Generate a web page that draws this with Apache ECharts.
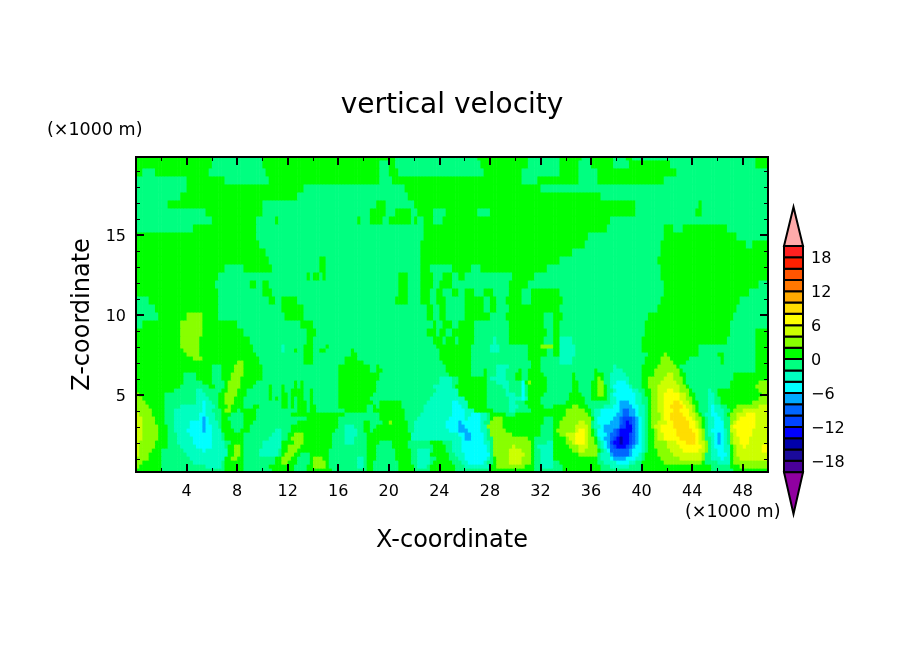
<!DOCTYPE html>
<html><head><meta charset="utf-8"><style>html,body{margin:0;background:#fff}#c{width:904px;height:654px}</style>
<script src="https://cdn.jsdelivr.net/npm/echarts@6/dist/echarts.min.js"></script></head>
<body><div id="c"></div><script>
// Velocity band read for each letter (mid value of the contour band)
const bandValue = {t:-15,u:-13,v:-11,w:-9,x:-7,y:-5,z:-3,a:-1,b:1,c:3,d:5,e:7,f:9,g:11};
// Each token: band letter + X (km) where that band ends.
// Lower rows, Z = 0.2 .. 8.2, 0.25 km tall, bottom to top, X 0..33
const rowsLowLeft = [
"b2.1 a7 b8.55 a10.7 b12.4 a13.5 b15.4 a18.2 b18.8 a20.8 b22 a23.3 b25.3 a28 b31.4 a33",
"c.25 b2 a5.5 z6.65 a7 b8.5 a10.6 b12.6 a13.55 b14 c14.9 b15.3 a17.4 z18.05 a18.2 b18.8 a20.7 b21.9 a22.25 z23.1 a23.3 b25.2 a25.9 z28.1 b28.6 c30.65 b31.5 a32.05 z33",
"c.4 b2 a4.45 z6.75 a6.9 b8.45 a11 b11.5 c12.05 b12.85 a13.65 b14 c14.9 b15.3 a17.45 z18.05 a18.2 b18.85 a20.7 b21.85 a22.2 z23.2 a23.5 b24.95 a25.7 z26.3 y27.5 z27.7 a28.2 b28.5 c29.6 d30.5 c31.2 b31.5 a32 z33",
"c.9 b1.9 a4.3 z7.1 b7.6 c8 b8.5 a11 b11.6 c12.2 b12.8 a13.7 b14 c14.85 b15.3 a17.4 z18.05 a18.2 b18.95 a20.6 b21.8 a22.2 z23.2 a23.7 b24.8 a25.4 z26.1 y27.7 z27.9 a28.2 b28.5 c29.5 d30.6 c31.2 b31.4 a32 z33",
"d.15 c1.05 b1.9 a3.95 z7.15 b7.7 c8.15 b8.5 a9.8 z11.2 a11.45 b11.75 c12.45 b13 a13.8 b15.3 a18.25 b19 a20.55 b21.75 a22.2 z23.3 b24.65 a25.2 z25.9 y27.9 z28 a28.2 c29.55 d30.65 c31.2 b31.4 a32 z33",
"d.2 c1.3 b2.05 a3.8 z5.25 y5.5 z7.15 b7.75 c8.2 b8.5 a9.85 z11.3 a11.4 b11.9 c12.7 b15.35 a18.25 b19 a20.45 b21.7 a22.2 z23.25 a23.4 b24.5 a25.1 z25.85 y27.75 z28.1 a28.35 c29.6 d30.5 c31.15 b31.5 a31.9 z33",
"d.25 c1.45 b2.45 a3.6 z4.75 y5.9 z7.1 a7.2 b7.7 c8.25 b8.5 a10 z11.4 b11.9 c13 b15.45 a18.25 b19.05 a20.3 b21.6 a23.4 b24.45 a25 z25.8 y27.7 z28 a28.3 c29.85 d30.1 c31.15 b31.55 a31.8 z33",
"d.35 c1.55 b2.6 a3.3 z4.5 y6 z6.9 a7.6 b8.5 a10.1 z11.4 a11.6 b12.45 c13.3 b15.5 a16.55 z17.35 a18.3 b19.2 a20.2 b21.5 a23.35 b24.15 a24.9 z25.7 y27.6 z27.9 a28.3 c31.15 b31.55 a32.6 z33",
"d.45 c1.75 b2.6 a3.15 z4.4 y6 z6.8 a7 b8.5 a10.4 z11.5 a12 b12.3 c13.35 b15.6 a16.6 z17.35 a18.3 b21.7 z25.65 y26.1 x26.5 y27.5 z27.85 a28.3 c31.1 b31.6 a33",
"d.6 c1.85 b2.6 a3.3 z4.3 y6 z6.75 a6.9 b8.55 a10.7 z11.5 a11.9 b12.6 c13.25 b15.6 a16.6 z17.4 a18.3 b21.75 z25.4 y26.1 x26.5 y27.4 z27.8 a28 c29.7 b32 a32.9 b33",
"d.6 c1.75 b2.6 a3 z4.1 y5.25 x5.6 y6 z6.7 a6.85 b7.75 a8.35 b8.9 a11 z11.5 a12.3 b15.8 a16.6 z17.4 a18.1 b18.5 a18.7 b21.55 a21.9 z24.7 y25.6 x26.3 y27.3 z27.8 a28.1 c29.2 b32.1 a33",
"d.55 c1.65 b2.5 a2.95 z4.15 y5.25 x5.6 y6 z6.6 a6.75 b7.6 a8.45 b9.1 a12.3 b15.9 a16.6 z17.3 a18.1 b18.55 a18.9 b21.5 a22 z24.6 y25.55 x25.9 y27.3 z27.7 c28.95 b32.1 a33",
"d.6 c1.55 b2.35 a3.05 z4.3 y5.25 x5.6 y5.8 z6.45 a6.75 b7.4 a8.5 b9.2 a12.7 b16 a18.1 b18.5 a19.5 b20 c20.35 b21.4 a22.1 z24.5 y25.6 x25.75 y27.3 z27.6 a28 c28.9 b32.2 a33",
"d.5 c1.4 b2.2 a3.05 z5.1 y5.25 x5.6 y5.75 z6.35 a6.75 b7.35 a8.6 b9.4 a13.4 b16 a19.3 b21.35 a22.3 z24.8 y26.1 z26.3 y27.3 z27.7 a28 b28.3 c28.95 b32.3 a33",
"d.2 c1.3 b2.15 a3.05 z5.1 y5.6 z6.3 a6.7 b7.4 a8.55 b9.5 a12.2 b16.5 a19.2 b21.3 a22.6 z24.9 y26 z26.4 y27.2 z27.7 a27.9 b29.3 a29.9 b32.9 a33",
"c1.15 b2.15 a3.05 z5.2 y5.6 z6.1 a6.65 b7.1 c7.5 b7.95 a8.3 b9.6 a12.85 b13.4 a13.65 b14.2 a16.4 b18.2 a18.7 b21.2 a22.7 z25 y25.9 z26.7 b28.2 a29.4 z30 a31.2 b32.9 a33",
"c.95 b2.15 a3.5 z5.2 y5.6 z6.15 a6.6 b7.2 c7.55 b8.4 a9.2 b9.75 a11.4 b11.9 a12.35 b12.6 a12.85 b13.4 a13.65 b14.15 a16.1 b18.2 a18.65 b19 a19.3 b21 a22.8 z25 y25.8 z26.3 b27.8 a29.5 z30.2 a30.9 b32.2 a33",
"c.75 b2.3 a4.65 z5.25 y5.5 z5.95 a6.6 b7.1 c7.7 b8.4 a11.4 b11.9 a12.3 b12.6 a12.85 b13.4 a13.65 b14.1 a16.1 b18.65 a19.3 b21 a22.9 z25 y25.5 z26.15 b27.7 a29.4 z30.1 a30.7 b32 a33",
"c.45 b2.25 a4.65 z5.85 a6.6 b7 c7.85 b8.5 a10.4 b10.65 a11 b11.25 a11.4 b11.9 a12.35 b12.6 a12.85 b13.35 a13.7 b14.05 a16.1 b18.4 a23.2 z25.9 b26.9 c27 b27.7 a29.4 z30.45 y30.7 z30.9 a31 b32 a33",
"c.3 b2.35 a4.65 z5.45 a6.55 b7 c7.9 b8.85 a10.4 b10.65 a11.15 b11.3 a11.5 b11.9 a12.35 b12.65 a12.85 b13.3 a13.7 b14 a16.1 b18.7 a23.6 z25.5 b27.8 a29.3 z30 a30.4 y30.7 a31 b32.3 a33",
"c.1 b3 a4.7 z5.35 a5.9 b6.1 a6.85 b7.15 c8 b8.8 a10.5 b10.75 a11.5 b11.8 a12.35 b12.7 a12.85 b13.25 a13.75 b13.95 a16.1 b18.9 a23.7 z25.4 b27.7 a29.2 z29.6 a30.4 y30.7 a30.95 b32.4 a33",
"b3.4 a5.65 b6.2 a6.9 b7.25 c8.15 b9.2 a10.6 b10.8 a11.55 b11.85 a12.4 b12.65 a12.9 b13.25 a16.05 b19.1 a23.6 z25.1 a25.3 b27.7 a29 z29.5 a30.4 y30.7 a30.95 b32.4 a33",
"b3.8 a5.25 b6 a6.9 b7.35 c8.25 b9.6 a12.4 b12.65 a12.9 b13.3 a16.1 b19.1 a23.9 z25 a25.5 b27.75 a28.6 z29.4 a30.5 y30.7 b31 c31.3 b32.4 a33",
"b3.8 a4.85 b6 a6.85 b7.5 c8.35 b10 a16.1 b19.2 a24 z24.9 a25.5 b25.9 c26.1 b27.7 a28.1 z29.3 a30 b30.4 a31 b32.5 a33",
"b3.8 a4.65 b6 a6.85 b7.6 c8.6 b10.05 a16 b19.3 a24.85 b25.9 c26.1 b26.4 a27.4 b27.8 a28.5 z29.3 a30.1 b30.4 a31 b32.3 a33",
"b6 a6.75 b7.7 c8.6 b10 a16 b18.4 a18.9 b19.4 a24.6 b26.4 a27.4 b27.8 a28.4 z29.35 a30.3 b30.5 a31 b32.1 a33",
"b6.05 a6.75 b7.8 c8.6 b9.95 a16.1 b18.4 a18.9 b19.2 a24.4 b26.4 a28.4 z29.4 a31.2 b32.1 a33",
"b7.9 c8.6 b9.8 a13.2 b14 a16.4 b17.9 a24.2 b26.4 a31.3 b32.1 a33",
"b4.55 c5.25 b9.65 a13.2 b14 a16.6 b17.6 a24.1 b26.4 a31 b32 a33",
"b4.05 c5.1 b9.45 a13.2 b14 a16.9 b17.5 a24 b26.4 a31 b32.5 a33",
"b3.8 c5.1 b9.35 a11.4 z11.65 a12.45 b12.7 a13.2 b14 a14.6 b14.9 a17 b17.3 a23.9 b26.4 a28.1 z28.65 a31 b32.5 a33",
"b3.6 c5.1 b9.15 a11.4 z11.65 a13.2 b14 a15.1 b15.2 a23.8 b26.4 a28.1 z28.65 a31 b32 c33"
];
// Lower rows, same heights, X 33..50
const rowsLowRight = [
"a33.8 b36.7 a40.1 b45.5 a47.2 b50",
"a33.7 b36.7 a37.6 z39.1 a40 b45.4 a47.1 b47.7 c50",
"a33.4 b36.5 a37 z37.9 y38.9 z39.5 a40 b41.7 c44.8 b45 a45.9 z46.9 a47 b47.2 c50",
"a33.1 b36.5 a36.7 z37.6 y37.75 x38.7 y39.5 z39.9 a40.3 b41.5 c42.9 d44.8 c45.1 a45.6 z46.2 y46.6 z46.9 a47 b47.2 c47.7 d50",
"b34.9 c36.45 b36.6 a36.8 z37.4 y37.6 x37.75 w38.95 x39.35 y39.75 z40.1 a40.3 b41.3 c42.6 d44.8 c45 a45.5 z46.1 y46.7 z47 a47.1 b47.3 c47.6 d50",
"b34.6 c35 d35.5 c36.6 b36.7 a36.9 z37.2 y37.4 x37.6 w39 x39.35 y39.9 z40.2 a40.4 b41.2 c42.25 d43.2 e44.6 d44.95 c45.15 a45.6 z46.1 y46.6 z46.9 a47.1 b47.2 c47.5 d49.4 e50",
"b34.3 c34.9 d35.65 c36.4 b36.6 a36.8 z37 y37.3 x37.5 w37.7 v38 u38.7 v39 w39.2 x39.6 y39.9 z40.2 a40.5 b41.1 c42.1 d42.9 e44.8 d45 c45.2 b45.3 a45.5 z45.8 y46.6 z46.9 a47.1 b47.2 c47.5 d47.9 e48.3 d49.4 e50",
"b34.1 c34.5 d34.85 e35.4 d35.7 c36.3 b36.5 a36.7 z36.9 y37.2 x37.45 w37.6 v37.8 u38.15 t38.6 u39 v39.25 w39.5 x39.75 y40 z40.25 a40.5 b41.06 c42 d42.8 e43.4 f44.2 e44.6 d44.95 c45.2 a45.5 z45.8 y46.02 x46.2 y46.6 z46.85 a47 b47.1 c47.3 d47.8 e48.45 d50",
"b33.9 c34.3 d34.7 e35.5 d35.8 c36.2 b36.4 a36.6 z36.7 y37.1 x37.4 w37.75 v38 u38.3 t38.6 u39.1 v39.3 w39.5 x39.7 y40 z40.2 a40.4 b41 c41.3 d41.7 e43 f44.2 e44.5 d44.85 c45.1 a45.4 z45.75 y46 x46.2 y46.55 z46.85 a47 b47.1 c47.25 d47.65 e48.6 d50",
"b33.6 c34.1 d34.8 e35.45 d35.8 c36 b36.3 a36.5 z36.6 y37.2 x37.5 w38 v38.3 u39.1 v39.35 w39.5 x39.7 y40 z40.25 a40.5 b40.9 c41.2 d41.65 e42.75 f44.2 e44.55 d44.8 c45.1 a45.35 z45.7 y46.05 x46.15 y46.5 z46.8 a47 b47.1 c47.2 d47.4 e48.8 d50",
"b33.3 c34.65 d34.95 e35.45 d35.7 c36 b36.2 a36.4 z36.6 y37.1 x37.75 w38 v38.35 u39.15 v39.35 w39.5 x39.75 y40 z40.25 a40.5 b40.9 c41.2 d41.6 e42.65 f43.95 e44.4 d44.7 c44.95 b45.1 a45.2 z45.6 y46.4 z46.8 a46.9 b47 c47.1 d47.4 e48.8 d50",
"b33.5 c34.85 d35.65 c36 b36.1 a36.3 z36.7 y37 x38.15 w38.35 v38.75 u39.15 v39.35 w39.55 x39.75 y40 z40.25 a40.5 b40.85 c41.1 d41.55 e42.45 f43.75 e44.2 d44.5 c44.8 b45 a45.2 z45.7 y46.5 z46.6 a46.9 b47 c47.1 d47.35 e48.9 d50",
"b33.4 c35.1 d35.55 c36 b36.1 a36.2 z36.5 y37.6 x38.35 w38.5 v38.75 u39.1 v39.3 w39.5 x39.75 y40 z40.25 a40.5 b40.85 c41.3 d41.9 e42.4 f43.7 e44.2 d44.5 c44.75 b45 a45.2 z45.7 y46.4 z46.6 a47 b47.05 c47.2 d47.45 e49 d50",
"b33.75 c36.05 b36.2 a36.3 z36.55 y37.8 x38.2 w38.5 v39.25 w39.45 x39.7 y40 z40.25 a40.5 b40.85 c41.4 d41.85 e42.25 f43.5 e44 d44.3 c44.65 b44.9 a45.2 z45.7 y46.3 z46.6 a46.9 b47 c47.4 d47.75 e48.9 d50",
"b34 c35.85 b36.1 a36.2 z36.7 y38 x38.4 w39.1 x39.5 y39.85 z40.2 a40.5 b40.85 c41.4 d41.8 e42.3 f43.3 e43.85 d44.2 c44.5 b44.75 a45.1 z45.6 y46.1 z46.5 a46.85 b47.1 c47.4 d48.2 e49.1 d50",
"b34.1 c35.5 b36 a36.3 z36.85 y38.15 x38.6 w39.05 x39.4 y39.75 z40.15 a40.5 b40.8 c41.3 d41.75 e42.4 f43 e43.7 d44.1 c44.35 b44.6 a45.15 z45.55 y45.8 z46.4 a46.9 b47.3 c48.1 d50",
"b34.6 c35.1 b35.75 a36.9 z37.75 y38.3 x39.2 y39.65 z40.15 a40.5 b40.8 c41.3 d41.75 e42.3 f43.2 e43.5 d44 c44.2 b44.55 a45.2 z45.5 y45.8 z46.2 a46.8 b47.6 c49.2 d50",
"a33.95 b35.5 a37.45 z37.9 y38.35 x39 y39.6 z40.1 a40.5 b40.75 c41.3 d41.7 e42.5 f43.05 e43.3 d43.7 c44.1 b44.4 a45.2 z45.85 a46.2 b48.8 c50",
"a34.2 b35.4 a36.05 b36.9 c37.1 b37.25 a37.4 z37.9 y39.5 z40 a40.4 b40.7 c41.25 d41.7 e43.1 d43.6 c44 b44.25 a45.3 z45.8 a46.2 b49.2 c50",
"a34.3 b35.3 a36 b36.6 c37.1 b37.3 a37.6 z37.75 y39.5 z39.95 a40.3 b40.7 c41.25 d41.8 e42.9 d43.4 c43.85 b44.2 a45.3 z45.7 a46.1 b49.4 c50",
"a34.5 b35.1 a35.9 b36.5 c37 b37.35 a37.8 z38 y39.35 z39.8 a40.2 b40.65 c41.3 d41.9 e42.5 d43.1 c43.65 b44 a45.3 z45.5 a46 b49.3 c50",
"a34.4 b35 a35.9 b36.55 c37 b37.2 a37.4 z37.75 y38.95 z39.35 a40 b40.6 c41.3 d42.9 c43.4 b43.7 a46.9 b49 c50",
"a34.5 b34.9 a36 b36.4 c36.95 b37.1 a37.4 z37.95 y38.8 z39.1 a40 b40.55 c41.4 d42.7 c43.3 b43.55 a47.1 b49.3 c50",
"a34.5 b34.7 a36.2 b36.5 c36.85 b37.1 a37.45 z39 a40 b40.55 c41.7 d42.5 c43.15 b43.5 a47.15 b50",
"a34.6 b34.85 a36.2 b36.9 a37.5 z38.7 a40 b40.9 c41.9 d42.4 c43.1 b43.4 a47.2 b50",
"a36.2 b36.6 a37.7 z38.4 a40 b41 c43 b43.3 a49 b50",
"a37.8 z38 a40.1 b41.2 c42.7 b43.1 a49 b50",
"a33.6 z34.5 a40.3 b41.4 c42.4 b43.5 a46.2 b46.6 a49 b50",
"a33.5 z34.6 a40.3 b41.6 c42.2 b43.8 a46.2 b46.5 a49 b50",
"b33.4 z34.7 a40.5 b41.7 c42.05 b44.6 a46.1 b46.4 a49 b50",
"b33.5 z34.7 a39.9 b44.6 a49 b50",
"b33.5 z34.7 a39.9 b44.6 a49 b50"
];
// Upper rows, Z = 8.2 .. top, 0.5 km tall, X 0..50
const rowsHigh = [
"b3.4 c5.1 b9 a13.5 b14.1 a23.6 b24.2 a24.6 b25.3 a25.4 b26.7 a28.3 z28.6 a29.5 b32.2 a33 b33.5 z34.6 a39.9 b46.7 a49.1 b50",
"b3.4 c5.2 b8.4 a13.4 b14.2 a23 b23.8 a24 b24.5 a25 b25.4 a25.5 b26.8 a29.4 b32.4 a33 b33.6 a40.2 b46.9 a49 b50",
"a.6 b3.6 c5.3 b7.9 a13 b14.1 a23.4 b23.8 a24.2 b25 a25.5 b26.8 a29.4 b32.3 a32.9 b33.6 a40.2 b47 a50",
"a1.8 b3.9 c5.3 b6.6 a11.7 b13.3 a22.9 b23.4 a23.9 b24.4 a26 b28 a29.3 b32.3 a33 b33.7 a40.6 b47.2 a50",
"a1.5 b6.5 a11.4 b13.3 a23 b23.6 a24 b24.6 a25.9 b27.6 a27.9 b28.6 a29.4 b33.5 a41.3 b47.4 a50",
"a1 b6.4 a10.4 b11 a11.5 b12.7 a20.6 b21.4 a22.6 b23.2 a23.8 b24.4 a26 b27.4 a28 b28.6 a29.2 b30.4 a31.3 b33.7 a41.6 b47.7 a50",
"b6.4 a10 b10.8 a20.7 b21.5 a22.6 b23.3 a23.7 b24.2 a25 b25.5 a26 b26.7 a27.6 b28.3 a29.5 b30.4 a31.2 b33.6 a41.7 b48.4 a50",
"b6.3 a9 b9.4 a10 b10.4 a20.8 b21.6 a22.4 b23.5 a24 b25 a29.6 b31 a41.7 b49.2 a50",
"b6.6 a13.4 b13.7 a14 b14.4 a14.7 b15 a19.4 b19.6 a20.8 b21.5 a22.4 b23.4 a24.3 b25 a25.5 b26 a29.7 b31.6 a41.6 b50",
"b7 a8.6 b10.7 a14.4 b15 a22.6 b23.3 a24.9 b26.4 a27.2 b32.5 a41.4 b50",
"b10.4 a14.6 b15 a22.4 b33.5 a41.3 b50",
"b10.2 a22.4 b34.4 a41.4 b50",
"b9.8 a22.5 b35.4 a41.6 b48.2 a48.8 b50",
"b9.4 a22.8 b35.8 a41.8 b47.4 a50",
"a4.5 b9.6 a22.8 b37.2 a41.8 b42.4 a43.2 b46.8 a50",
"a5.9 b9.6 a10.9 b11.3 a17.4 b17.8 a18.6 b19.6 a20.1 b21.7 a22 b22.3 a22.8 b23.4 a24.3 b37.5 a50",
"a5.6 b10 a18.5 b19.7 a20.6 b21.7 a22.3 b23.4 a24.4 b27.1 a27.9 b39.4 a44.2 b44.7 a50",
"a2.6 b10 a18.9 b19.7 a21.9 b39.5 a44.4 b44.8 a50",
"a3.5 b12.8 a21.6 b36.7 a50",
"a3.9 b13.2 a21.2 b32 a50",
"a3.9 b6.9 a10.4 b19.3 a20.3 b30.6 a31.8 b35 a36.6 b41.7 a50",
"b.5 a1.4 b5.8 a10.3 b19.2 a20 b20.8 a27.5 b30.6 a33.4 b35.1 a36.6 b42.7 a50",
"b5.9 a9.9 b19.2 a20 b20.6 a27.2 b31 a33.5 b35 a36 b37.8 a39 b42.2 a48.9 b50",
"b6 a9.9 b20.6 a27 b31 a33.5 b35.3 a36.1 b37.8 a38.7 b39.3 a49 b50"
];
const splitX = 33, splitZ = 8.2;
const xRange = [0, 50], zRange = [0.2, 19.875];
const cellW = 0.25, lowH = 0.25, highH = 0.5;
const xMajor = [4,8,12,16,20,24,28,32,36,40,44,48];
const xMinor = [2,6,10,14,18,22,26,30,34,38,42,46];
const zMajor = [5,10,15];
const zMinor = [1,2,3,4,6,7,8,9,11,12,13,14,16,17,18,19];
const barLabels = [-18,-12,-6,0,6,12,18];
const barEdges = [-20,-18,-16,-14,-12,-10,-8,-6,-4,-2,0,2,4,6,8,10,12,14,16,18,20];
const barColors = ['#4a0099','#1a0a9a','#0000aa','#0000ff','#0044ff','#0066ff','#00aaff','#00ffff','#00ffc0','#00ff80','#00ff00','#88ff00','#ccff00','#ffff00','#ffdd00','#ffaa00','#ff7700','#ff5500','#ff2000','#ff2020'];
const overColor = '#ffaaaa', underColor = '#9000a0', overTip = 26.9, underTip = -27.4;

function colorOf(v){ for(let i=0;i<barColors.length;i++){ if(v>=barEdges[i]&&v<barEdges[i+1]) return barColors[i]; } return v<0?underColor:overColor; }
const cells = [];
function addRow(row,y,h,fromX,toX){
  const tokens = row.split(' ').map(t=>[t[0],parseFloat(t.slice(1))]);
  let k = 0;
  for(let x=fromX;x<toX-1e-6;x+=cellW){
    const mid = x+cellW/2;
    while(k<tokens.length-1 && mid>tokens[k][1]) k++;
    cells.push([x,y,bandValue[tokens[k][0]],h]);
  }
}
rowsLowLeft.forEach((row,r)=>addRow(row,zRange[0]+r*lowH,lowH,0,splitX));
rowsLowRight.forEach((row,r)=>addRow(row,zRange[0]+r*lowH,lowH,splitX,xRange[1]));
rowsHigh.forEach((row,r)=>addRow(row,splitZ+r*highH,highH,0,xRange[1]));
const barData = barColors.map((c,i)=>[barEdges[i],barEdges[i+1],(barEdges[i]+barEdges[i+1])/2]);
const tipData = [[barEdges[barEdges.length-1],overTip,1],[barEdges[0],underTip,-1]];

const font = 'DejaVu Sans';
const line = {show:true,onZero:false,lineStyle:{color:'#000',width:2}};
const shiftedRich = {s:{color:'#000',fontFamily:font,fontSize:16,padding:[4,0,0,0]}};
function xAx(pos,vals,len,w,labels){return {type:'value',gridIndex:0,position:pos,min:xRange[0],max:xRange[1],z:5,splitLine:{show:false},axisLine:line,
  axisTick:{show:true,inside:true,length:len,customValues:vals,lineStyle:{color:'#000',width:w}},
  axisLabel:labels?{show:true,customValues:vals,color:'#000',fontFamily:font,fontSize:16,margin:12,formatter:v=>String(v)}:{show:false},
  name:labels?'X-coordinate':'',nameLocation:'middle',nameGap:57,nameTextStyle:{color:'#000',fontFamily:font,fontSize:24}};}
function yAx(pos,vals,len,w,labels){return {type:'value',gridIndex:0,position:pos,min:zRange[0],max:zRange[1],z:5,splitLine:{show:false},axisLine:line,
  axisTick:{show:true,inside:true,length:len,customValues:vals,lineStyle:{color:'#000',width:w}},
  axisLabel:labels?{show:true,customValues:vals,margin:10,rich:shiftedRich,formatter:v=>'{s|'+v+'}'}:{show:false},
  name:labels?'Z-coordinate':'',nameLocation:'middle',nameGap:38,nameRotate:90,nameTextStyle:{color:'#000',fontFamily:font,fontSize:24}};}

const chart = echarts.init(document.getElementById('c'),null,{renderer:'canvas'});
chart.setOption({
  animation:false,backgroundColor:'#fff',
  title:[
    {text:'vertical velocity',left:'center',top:92,textStyle:{fontFamily:font,fontWeight:'normal',fontSize:28,color:'#000'},padding:0},
    {text:'(×1000 m)',left:47,top:121,textStyle:{fontFamily:font,fontWeight:'normal',fontSize:17.5,color:'#000'},padding:0},
    {text:'(×1000 m)',left:685,top:503,textStyle:{fontFamily:font,fontWeight:'normal',fontSize:17.5,color:'#000'},padding:0}
  ],
  grid:[{left:136,top:157,width:632,height:315,containLabel:false},{left:784,top:207,width:19,height:307}],
  xAxis:[xAx('bottom',xMajor,8,2,true),xAx('bottom',xMinor,4,1,false),xAx('top',xMajor,8,2,false),xAx('top',xMinor,4,1,false),
    {type:'value',gridIndex:1,min:0,max:1,show:false}],
  yAxis:[yAx('left',zMajor,8,2,true),yAx('left',zMinor,4,1,false),yAx('right',zMajor,8,2,false),yAx('right',zMinor,4,1,false),
    {type:'value',gridIndex:1,position:'right',min:underTip,max:overTip,splitLine:{show:false},axisLine:{show:false},axisTick:{show:false},
     axisLabel:{show:true,customValues:barLabels,margin:8,rich:shiftedRich,formatter:v=>'{s|'+(v<0?'−'+(-v):v)+'}'}}],
  series:[
    {type:'custom',xAxisIndex:0,yAxisIndex:0,clip:true,silent:true,progressive:0,data:cells,encode:{x:0,y:1},
     renderItem(p,api){
       const x=api.value(0),y=api.value(1);
       const a=api.coord([x,y]),b=api.coord([x+cellW,y+api.value(3)]);
       return {type:'rect',shape:{x:a[0],y:b[1],width:b[0]-a[0]+0.6,height:a[1]-b[1]+0.6},style:{fill:colorOf(api.value(2))}};
     }},
    {type:'custom',xAxisIndex:4,yAxisIndex:4,silent:true,data:barData,encode:{y:[0,1]},
     renderItem(p,api){
       const a=api.coord([0,api.value(0)]),b=api.coord([1,api.value(1)]);
       return {type:'rect',shape:{x:a[0],y:b[1],width:b[0]-a[0],height:a[1]-b[1]},style:{fill:colorOf(api.value(2)),stroke:'#000',lineWidth:2}};
     }},
    {type:'custom',xAxisIndex:4,yAxisIndex:4,silent:true,data:tipData,encode:{y:[0,1]},
     renderItem(p,api){
       const l=api.coord([0,api.value(0)]),r=api.coord([1,api.value(0)]),t=api.coord([0.5,api.value(1)]);
       return {type:'polygon',shape:{points:[l,r,t]},style:{fill:api.value(2)>0?overColor:underColor,stroke:'#000',lineWidth:2}};
     }}
  ]
});
</script></body></html>
